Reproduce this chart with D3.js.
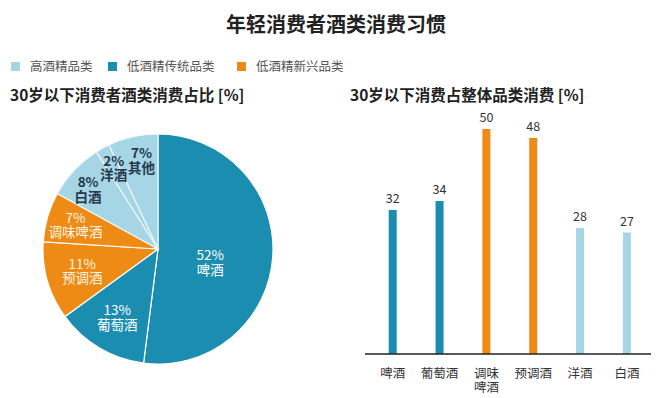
<!DOCTYPE html>
<html>
<head>
<meta charset="utf-8">
<script src="https://cdn.jsdelivr.net/npm/d3@7"></script>
<style>
  body { margin: 0; background: #fff; }
  svg { display: block; font-family: "Noto Sans CJK SC", "Noto Sans", sans-serif; }
</style>
</head>
<body>
<div id="chart"></div>
<script>
// legend groups
const groups = ['高酒精品类', '低酒精传统品类', '低酒精新兴品类'];
const groupColors = ['#a6d5e5', '#1a8db0', '#ee8b14'];

// pie: share of alcohol consumption, under 30
const pieNames = ['啤酒', '葡萄酒', '预调酒', '调味啤酒', '白酒', '洋酒', '其他'];
const pieValues = [52, 13, 11, 7, 8, 2, 7];
const pieGroups = [1, 1, 2, 2, 0, 0, 0];

// bars: under-30 share of category consumption
const barNames = ['啤酒', '葡萄酒', '调味啤酒', '预调酒', '洋酒', '白酒'];
const barValues = [32, 34, 50, 48, 28, 27];
const barGroups = [1, 1, 2, 2, 0, 0];

const W = 664, H = 398;
const svg = d3.select('#chart').append('svg')
  .attr('width', W)
  .attr('height', H);

// title
svg.append('text')
  .attr('x', 336).attr('y', 32)
  .attr('text-anchor', 'middle')
  .style('font-size', '20px')
  .style('font-weight', 'bold')
  .attr('fill', '#222')
  .text('年轻消费者酒类消费习惯');

// legend
const legendX = [11, 108, 237];
groups.forEach((g, i) => {
  svg.append('rect')
    .attr('x', legendX[i]).attr('y', 62)
    .attr('width', 9).attr('height', 9)
    .attr('fill', groupColors[i]);
  svg.append('text')
    .attr('x', legendX[i] + 19).attr('y', 71)
    .style('font-size', '12.5px')
    .attr('fill', '#555')
    .text(g);
});

// subtitles
const subs = [
  { x: 10, t: '30岁以下消费者酒类消费占比 [%]' },
  { x: 350, t: '30岁以下消费占整体品类消费 [%]' },
];
subs.forEach(s => {
  svg.append('text')
    .attr('x', s.x).attr('y', 101)
    .style('font-size', '15.5px')
    .style('font-weight', 'bold')
    .attr('fill', '#222')
    .text(s.t);
});

// pie
const radius = 115;
const pieG = svg.append('g').attr('transform', 'translate(158,249)');
const pie = d3.pie().sort(null).value(d => d);
const arcs = pie(pieValues);
const arc = d3.arc().innerRadius(0).outerRadius(radius);

pieG.selectAll('path.slice')
  .data(arcs)
  .join('path')
  .attr('class', 'slice')
  .attr('d', arc)
  .attr('fill', (d, i) => groupColors[pieGroups[i]])
  .attr('stroke', (d, i) => pieGroups[i] === 0 ? '#eef8fb' : '#fff')
  .attr('stroke-width', 1.2);

// label distance from centre and small angle nudge (deg) per slice
const labelR = [54, 80, 79, 86, 91.5, 92, 90];
const labelShift = [11, 0, 0, 0, -3, 0, 2];
const textColors = ['#24384a', '#fff', '#fff4e6'];

arcs.forEach((d, i) => {
  const a = (d.startAngle + d.endAngle) / 2 + labelShift[i] * Math.PI / 180;
  const cx = Math.sin(a) * labelR[i];
  const cy = -Math.cos(a) * labelR[i];
  const dark = pieGroups[i] === 0;
  const t = pieG.append('text')
    .attr('text-anchor', 'middle')
    .attr('transform', 'translate(' + cx + ',' + cy + ')')
    .style('font-size', '13.5px')
    .style('font-weight', dark ? 'bold' : 'normal')
    .attr('fill', textColors[pieGroups[i]]);
  t.append('tspan').attr('x', 0).attr('y', -2.5).text(pieValues[i] + '%');
  t.append('tspan').attr('x', 0).attr('y', 12).text(pieNames[i]);
});

// bars
const x = d3.scalePoint()
  .domain(barNames)
  .range([369.3, 650.3])
  .padding(0.5);
const y = d3.scaleLinear()
  .domain([0, 50])
  .range([354, 129]);
const barW = 8;

svg.selectAll('rect.bar')
  .data(barValues)
  .join('rect')
  .attr('class', 'bar')
  .attr('x', (d, i) => x(barNames[i]) - barW / 2)
  .attr('y', d => y(d))
  .attr('width', barW)
  .attr('height', d => y(0) - y(d))
  .attr('fill', (d, i) => groupColors[barGroups[i]]);

svg.selectAll('text.val')
  .data(barValues)
  .join('text')
  .attr('class', 'val')
  .attr('x', (d, i) => x(barNames[i]))
  .attr('y', d => y(d) - 7)
  .attr('text-anchor', 'middle')
  .style('font-size', '12.5px')
  .attr('fill', '#333')
  .text(d => d);

// axis baseline
svg.append('line')
  .attr('x1', 365).attr('x2', 651)
  .attr('y1', y(0)).attr('y2', y(0))
  .attr('stroke', '#222')
  .attr('stroke-width', 1.5);

// category labels
barNames.forEach(name => {
  const lines = name === '调味啤酒' ? ['调味', '啤酒'] : [name];
  const t = svg.append('text')
    .attr('text-anchor', 'middle')
    .style('font-size', '12.5px')
    .attr('fill', '#333');
  lines.forEach((l, j) => {
    t.append('tspan')
      .attr('x', x(name))
      .attr('y', 378 + j * 13.5)
      .text(l);
  });
});
</script>
</body>
</html>
